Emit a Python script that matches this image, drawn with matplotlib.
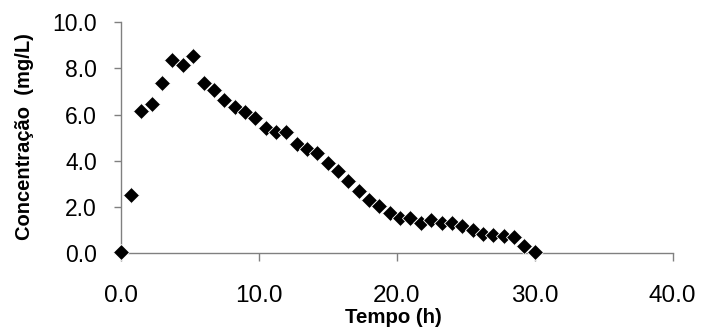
import matplotlib
matplotlib.use("Agg")
import matplotlib.pyplot as plt

# tempo (h) e concentração (mg/L)
tempo = [0.0, 0.75, 1.5, 2.25, 3.0, 3.75, 4.5, 5.25, 6.0, 6.75,
         7.5, 8.25, 9.0, 9.75, 10.5, 11.25, 12.0, 12.75, 13.5, 14.25,
         15.0, 15.75, 16.5, 17.25, 18.0, 18.75, 19.5, 20.25, 21.0, 21.75,
         22.5, 23.25, 24.0, 24.75, 25.5, 26.25, 27.0, 27.75, 28.5, 29.25,
         30.0]
conc = [0.05, 2.50, 6.15, 6.46, 7.35, 8.36, 8.13, 8.53, 7.35, 7.06,
        6.63, 6.32, 6.12, 5.83, 5.43, 5.23, 5.23, 4.73, 4.51, 4.35,
        3.92, 3.57, 3.13, 2.71, 2.30, 2.05, 1.73, 1.51, 1.51, 1.33,
        1.45, 1.31, 1.32, 1.18, 1.01, 0.82, 0.79, 0.75, 0.72, 0.33,
        0.05]
xticks = [0.0, 10.0, 20.0, 30.0, 40.0]
yticks = [0.0, 2.0, 4.0, 6.0, 8.0, 10.0]

plt.rcParams["font.family"] = ["Liberation Sans", "DejaVu Sans"]

fig = plt.figure(figsize=(7.02, 3.33), dpi=100)
ax = fig.add_axes([120.7 / 702, 1 - 253.3 / 333, 552 / 702, 231.3 / 333])

ax.plot(tempo, conc, ls="none", marker="D", ms=8.6, mfc="black",
        mec="white", mew=0.6, clip_on=False, zorder=3)

ax.set_xlim(0, 40)
ax.set_ylim(0, 10)
ax.set_xticks(xticks)
ax.set_yticks(yticks)
ax.set_xticklabels([f"{v:.1f}" for v in xticks])
ax.set_yticklabels([f"{v:.1f}" for v in yticks])
ax.tick_params(axis="y", direction="out", length=5, width=1, color="#808080",
               labelsize=16.5, pad=12)
ax.tick_params(axis="x", direction="out", length=6, width=1, color="#808080",
               labelsize=17.5, pad=16.5)
for s in ("top", "right"):
    ax.spines[s].set_visible(False)
for s in ("left", "bottom"):
    ax.spines[s].set_color("#808080")
    ax.spines[s].set_linewidth(1)

ax.set_xlabel("Tempo (h)", fontsize=14.7, fontweight="bold", va="top")
ax.xaxis.set_label_coords((393 - 120.7) / 552, (253.3 - 308) / 231.3)
ax.set_ylabel("Concentração  (mg/L)", fontsize=14.5, fontweight="bold")
ax.yaxis.set_label_coords((34 - 120.7) / 552, (253.3 - 136.5) / 231.3)

fig.savefig("out.png", dpi=100)
